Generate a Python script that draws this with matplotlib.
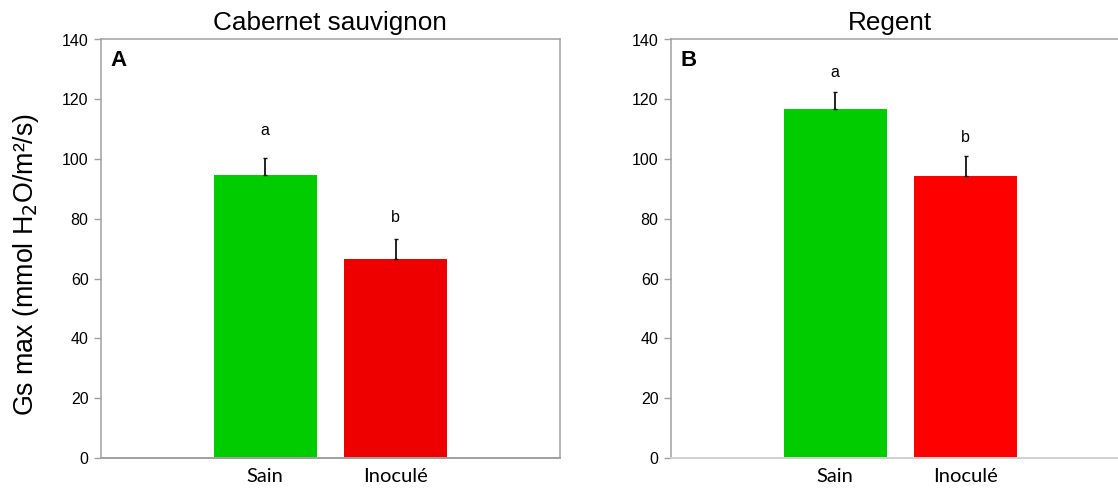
import matplotlib
matplotlib.use("Agg")
import matplotlib.pyplot as plt

categories = ["Sain", "Inoculé"]
titles = ["Cabernet sauvignon", "Regent"]
panel_labels = ["A", "B"]
cab_values = [94.6, 66.6]
cab_errors = [5.7, 6.7]
cab_letters = ["a", "b"]
cab_letter_y = [109.4, 80.3]
reg_values = [116.7, 94.4]
reg_errors = [5.8, 6.7]
reg_letters = ["a", "b"]
reg_letter_y = [129.1, 107.3]
yticks = [0, 20, 40, 60, 80, 100, 120, 140]

plt.rcParams['font.family'] = ['Liberation Sans', 'DejaVu Sans']

fig = plt.figure(figsize=(11.18, 4.94), dpi=100)
W, H = 1118, 494
axw = 459 / W
axb = (494 - 458) / H
axh = (458 - 39.5) / H
ax1 = fig.add_axes([101 / W, axb, axw, axh])
ax2 = fig.add_axes([671 / W, axb, axw, axh])

panels = [
    (ax1, cab_values, cab_errors, cab_letters, cab_letter_y, ["#00CC00", "#EE0000"]),
    (ax2, reg_values, reg_errors, reg_letters, reg_letter_y, ["#00CC00", "#FF0000"]),
]

for i, (ax, vals, errs, lets, lety, cols) in enumerate(panels):
    x = list(range(len(categories)))
    ax.bar(x, vals, width=0.786, color=cols, edgecolor='none', zorder=2)
    ax.errorbar(x, vals, yerr=[[0, 0], errs], fmt='none', ecolor='#111111',
                elinewidth=1.3, capsize=1.2, capthick=1.0, zorder=3)
    for xi, l, ly in zip(x, lets, lety):
        ax.text(xi, ly, l, ha='center', va='center', fontsize=11.5, color='black')
    ax.set_xlim(-1.256, 2.256)
    ax.set_ylim(0, 140)
    ax.set_yticks(yticks)
    ax.set_yticklabels([str(t) for t in yticks])
    ax.tick_params(axis='y', labelsize=11.5, length=5, width=1, color='#A0A0A0', pad=4)
    ax.set_xticks(x)
    ax.set_xticklabels(categories, fontsize=14.5, family=['Lato', 'DejaVu Sans'])
    ax.tick_params(axis='x', length=0, pad=7)
    for s in ['left', 'top', 'right']:
        ax.spines[s].set_color('#A0A0A0')
        ax.spines[s].set_linewidth(1.1)
    ax.spines['bottom'].set_color('#A0A0A0' if i == 0 else '#D0D0D0')
    ax.spines['bottom'].set_linewidth(1.4)
    ax.text(0.02, 0.95, panel_labels[i], transform=ax.transAxes, ha='left', va='center',
            fontsize=16, fontweight='bold')

fig.text(330 / W, 1 - 23 / H, titles[0], ha='center', va='center', fontsize=18.8)
fig.text(890 / W, 1 - 23 / H, titles[1], ha='center', va='center', fontsize=18.8)

fig.text(26 / W, 1 - 264 / H, "Gs max (mmol H$_2$O/m²/s)", rotation=90,
         ha='center', va='center', fontsize=19.3)

fig.savefig("out.png", dpi=100)
